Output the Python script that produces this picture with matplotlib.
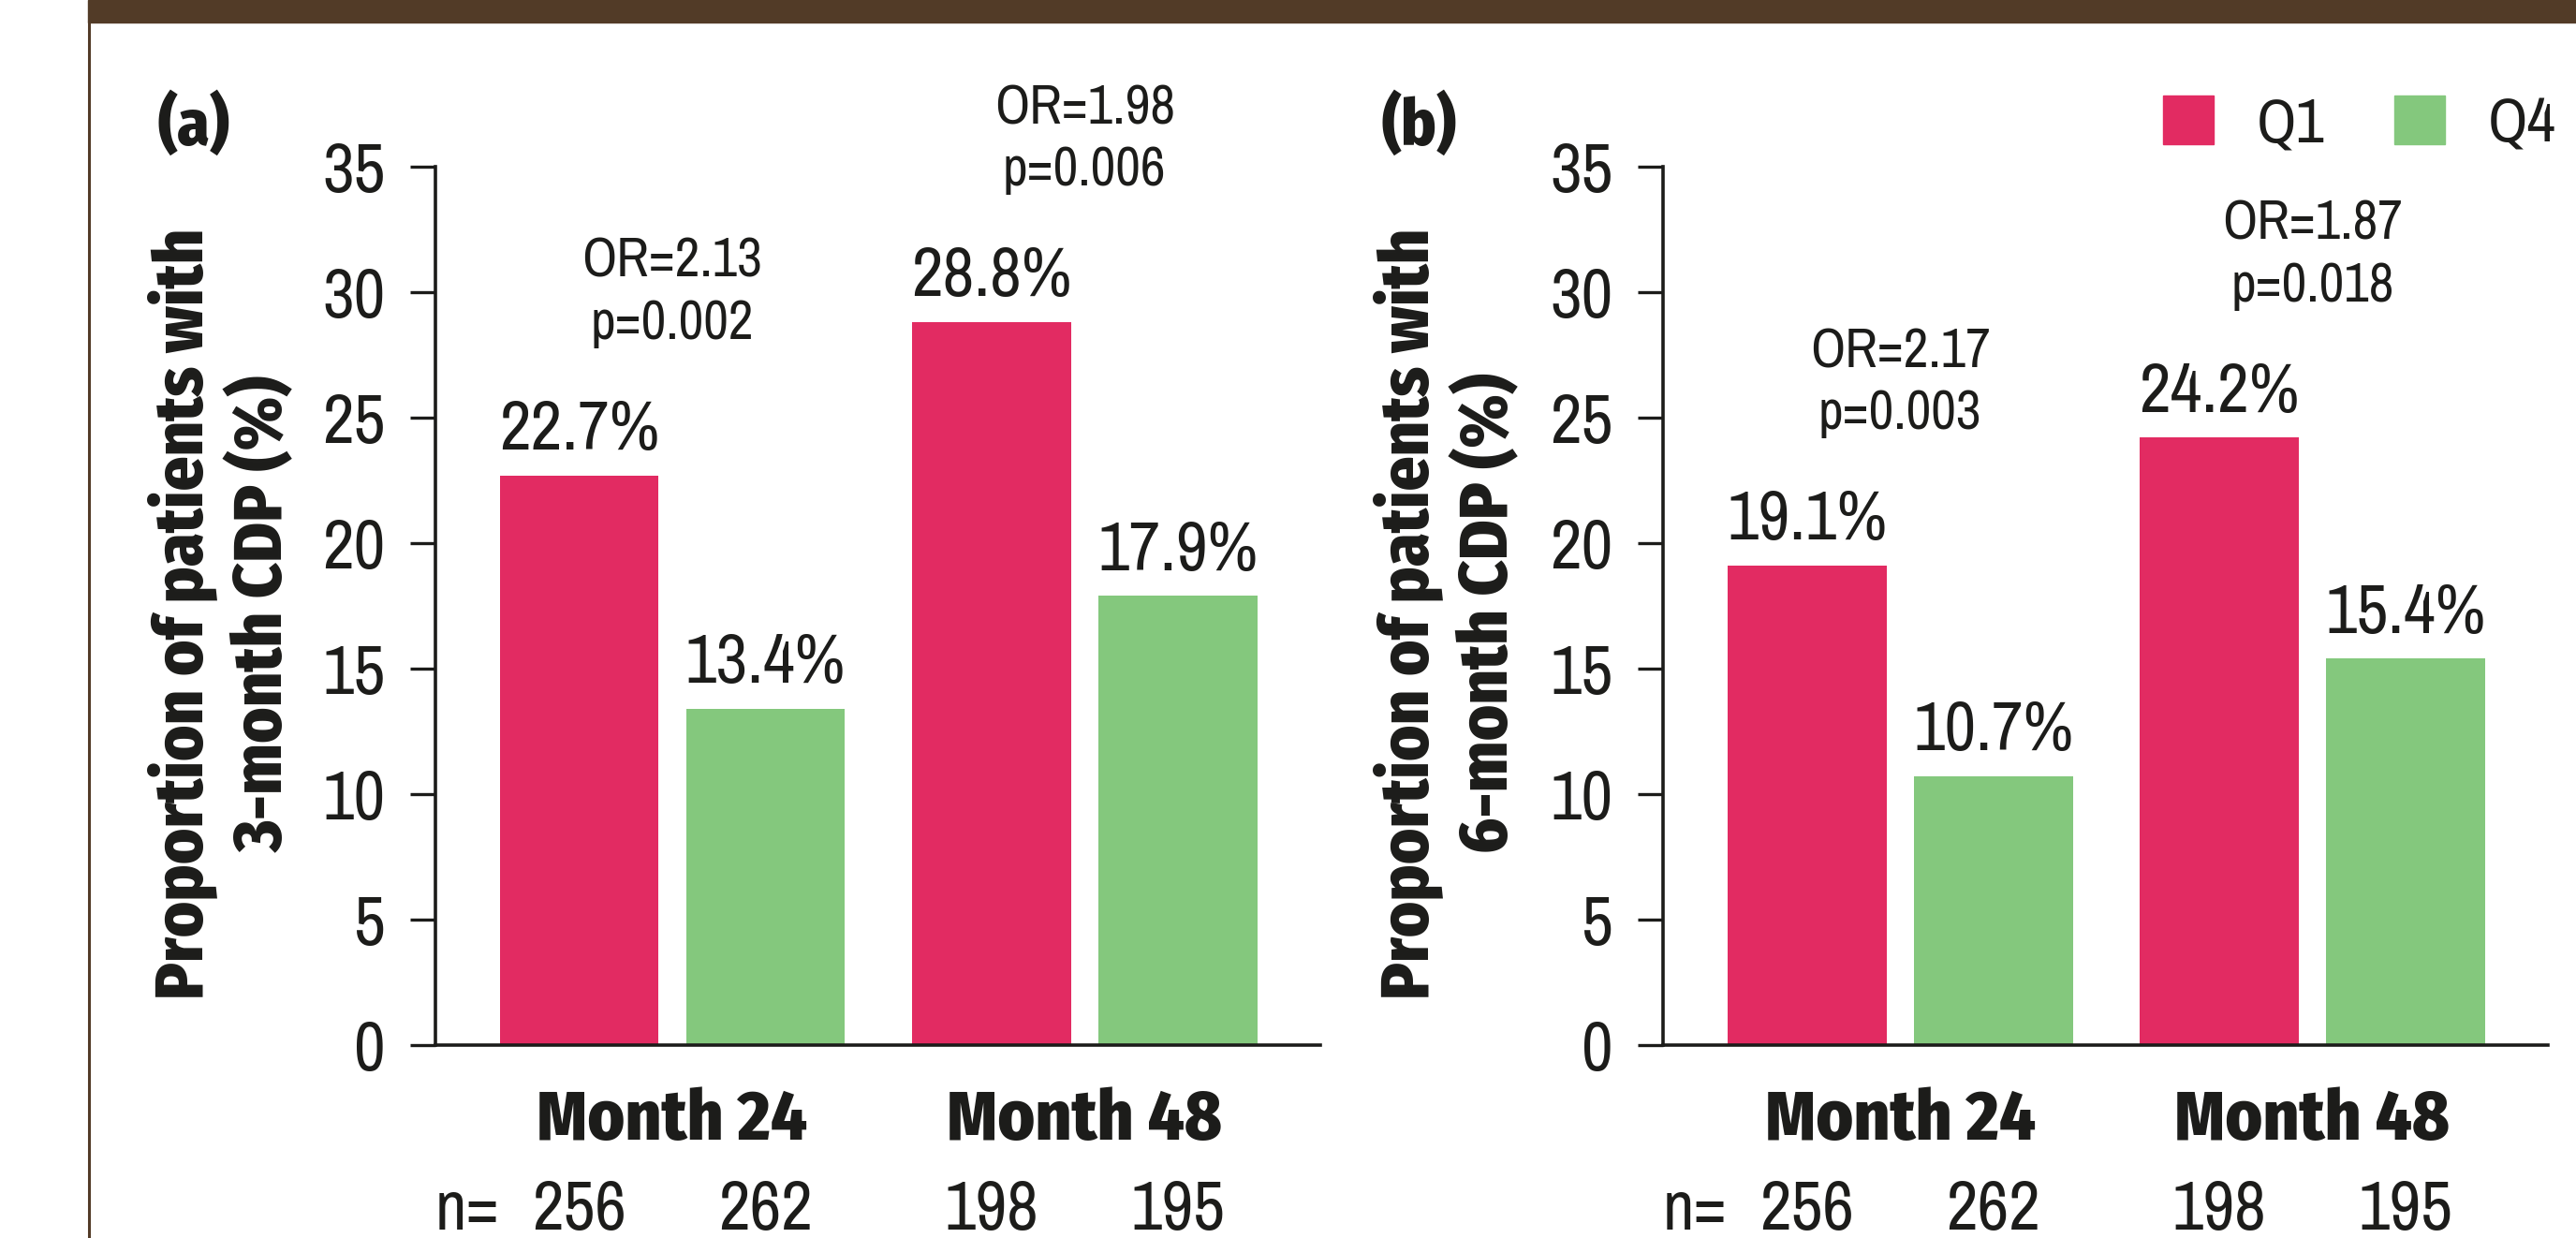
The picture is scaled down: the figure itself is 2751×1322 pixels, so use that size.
#Grouped bar chart: proportion of patients with confirmed disability progression (Q1 vs Q4)

#imports
import matplotlib
matplotlib.use('Agg')
import matplotlib.pyplot as plt
import matplotlib.transforms as mtransforms
from matplotlib.patches import Patch, Rectangle
from matplotlib.lines import Line2D
import numpy as np

#data
groups = ['Month 24', 'Month 48']
series = ['Q1', 'Q4']

q1_3m = [22.7, 28.8]
q4_3m = [13.4, 17.9]
or_3m = ['2.13', '1.98']
p_3m = ['0.002', '0.006']

q1_6m = [19.1, 24.2]
q4_6m = [10.7, 15.4]
or_6m = ['2.17', '1.87']
p_6m = ['0.003', '0.018']

n_q1 = [256, 198]
n_q4 = [262, 195]

yticks = [0, 5, 10, 15, 20, 25, 30, 35]

#style
NARROW = ['Archivo Narrow', 'DejaVu Sans']
BOLD = ['Fira Sans Condensed', 'DejaVu Sans']
plt.rcParams['font.family'] = NARROW
RED = '#e22b62'
GREEN = '#84c87d'
BROWN = '#523b27'
INK = '#1c1c1a'
plt.rcParams['text.color'] = INK


def draw_panel(ax, q1, q4, odds, pvals, ylab, tag, ylab_x, tag_x):
	x = np.arange(len(groups))
	w, off = 0.386, 0.226
	ax.bar(x - off, q1, w, color=RED, label=series[0])
	ax.bar(x + off, q4, w, color=GREEN, label=series[1])

	ax.set_xlim(-0.575, 1.572)
	ax.set_ylim(0, 35)
	ax.set_yticks(yticks)
	ax.set_xticks([])
	for s in ['top', 'right']:
		ax.spines[s].set_visible(False)
	for s in ['left', 'bottom']:
		ax.spines[s].set_linewidth(2.6)
		ax.spines[s].set_color(INK)
	ax.tick_params(axis='y', direction='out', length=19.5, width=2.4,
		pad=19, labelsize=53, colors=INK)

	#value labels
	for xi, v in zip(x - off, q1):
		ax.annotate(f'{v:.1f}%', (xi, v), xytext=(0, 20), textcoords='offset points',
			ha='center', va='baseline', fontsize=53)
	for xi, v in zip(x + off, q4):
		ax.annotate(f'{v:.1f}%', (xi, v), xytext=(0, 20), textcoords='offset points',
			ha='center', va='baseline', fontsize=53)

	#odds ratios (baseline of the p line sits above the taller bar)
	for xi, a, b, o, p in zip(x, q1, q4, odds, pvals):
		ax.annotate(f'OR={o}\np={p}', (xi, max(a, b)), xytext=(0, 105),
			textcoords='offset points', ha='center', va='baseline',
			fontsize=42, linespacing=1.3, annotation_clip=False)

	#group labels and sample sizes
	trans = mtransforms.blended_transform_factory(ax.transData, ax.transAxes)
	for xi, g in zip(x, groups):
		ax.text(xi, -0.108, g, transform=trans, ha='center', va='baseline',
			fontsize=54, fontweight=800, family=BOLD)
	for xi, n in zip(x - off, n_q1):
		ax.text(xi, -0.210, str(n), transform=trans, ha='center', va='baseline', fontsize=53)
	for xi, n in zip(x + off, n_q4):
		ax.text(xi, -0.210, str(n), transform=trans, ha='center', va='baseline', fontsize=53)
	ax.text(x[0] - off - w / 2, -0.210, 'n=', transform=trans, ha='right',
		va='baseline', fontsize=53)

	#axis title and panel tag
	fig.text(ylab_x, 0.5045, ylab, rotation=90, ha='center', va='center',
		multialignment='center', fontsize=52, fontweight=800, family=BOLD,
		linespacing=1.2)
	fig.text(tag_x, 0.8828, tag, ha='left', va='baseline', fontsize=50,
		fontweight=800, family=BOLD)


fig = plt.figure(figsize=(27.51, 13.22), dpi=100)
axA = fig.add_axes([0.1690, 0.15582, 0.3435, 0.70953])
axB = fig.add_axes([0.6456, 0.15582, 0.3435, 0.70953])

draw_panel(axA, q1_3m, q4_3m, or_3m, p_3m,
	'Proportion of patients with\n3-month CDP (%)', '(a)', 0.0864, 0.0614)
draw_panel(axB, q1_6m, q4_6m, or_6m, p_6m,
	'Proportion of patients with\n6-month CDP (%)', '(b)', 0.562, 0.5365)

#legend
handles = [Patch(color=RED, label=series[0]), Patch(color=GREEN, label=series[1])]
fig.legend(handles=handles, ncol=2, loc='upper left', bbox_to_anchor=(0.8397, 0.9226),
	frameon=False, fontsize=48, borderpad=0, borderaxespad=0, handlelength=0.81,
	handleheight=0.81, handletextpad=0.68, columnspacing=1.12)

#brown frame from the source figure
fig.patches.append(Rectangle((94 / 2751, 1 - 24 / 1322), 1, 24 / 1322,
	transform=fig.transFigure, color=BROWN, zorder=5))
fig.lines.append(Line2D([95.5 / 2751] * 2, [0, 1 - 24 / 1322], lw=2.2,
	color=BROWN, transform=fig.transFigure))

#output the figure
fig.savefig('out.png', dpi=100)
